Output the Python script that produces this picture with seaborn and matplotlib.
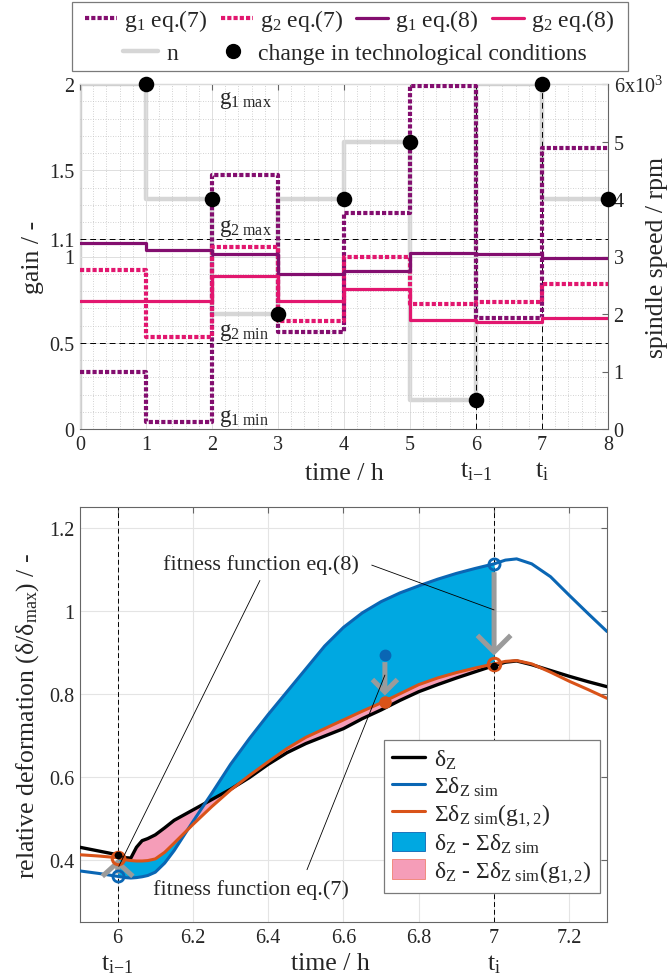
import numpy as np
import pandas as pd
import matplotlib
matplotlib.use("Agg")
import matplotlib.pyplot as plt
import matplotlib.ticker as mticker
from matplotlib.lines import Line2D
from matplotlib.patches import Patch, Rectangle
from matplotlib.transforms import blended_transform_factory
import seaborn as sns

# ---------------- data: top panel (gains / spindle speed) ----------------
hour_edges = [0, 1, 2, 3, 4, 5, 6, 7, 8]
n_start = 0
n_rpm = [6000, 4000, 2000, 4000, 5000, 500, 6000, 4000]
g1_eq7 = [0.33, 0.04, 1.47, 0.56, 1.25, 1.99, 0.645, 1.63]
g2_eq7 = [0.92, 0.535, 1.057, 0.628, 1.00, 0.725, 0.734, 0.841]
g1_eq8 = [1.08, 1.04, 1.013, 0.899, 0.918, 1.02, 1.013, 0.99]
g2_eq8 = [0.74, 0.74, 0.889, 0.74, 0.812, 0.634, 0.622, 0.642]
g1_limits = [0.0, 2.0]     # g1 min, g1 max
g2_limits = [0.5, 1.1]     # g2 min, g2 max
gain_ticks = [0, 0.5, 1, 1.1, 1.5, 2]
gain_ticklabels = ["0", "0.5", "1", "1.1", "1.5", "2"]
rpm_ticks = [0, 1000, 2000, 3000, 4000, 5000, 6000]
rpm_ticklabels = ["0", "1", "2", "3", "4", "5", "6x10$^{3}$"]
marked_times = [6, 7]
marked_labels = ["t$_{i{-}1}$", "t$_{i}$"]

# ---------------- data: bottom panel (relative deformation) ----------------
t_h = [5.90, 5.95, 6.00, 6.02, 6.035, 6.05, 6.065, 6.08, 6.10, 6.125, 6.15,
       6.20, 6.25, 6.30, 6.35, 6.40, 6.45, 6.50, 6.55, 6.60, 6.65, 6.70,
       6.75, 6.80, 6.85, 6.90, 6.95, 7.00, 7.03, 7.06, 7.10, 7.15, 7.20,
       7.25, 7.30]
delta_z = [0.430, 0.421, 0.412, 0.405, 0.404, 0.430, 0.446, 0.451, 0.460,
           0.477, 0.495, 0.520, 0.545, 0.570, 0.598, 0.630, 0.658, 0.680,
           0.698, 0.716, 0.740, 0.761, 0.784, 0.805, 0.822, 0.838, 0.853,
           0.868, 0.876, 0.879, 0.870, 0.856, 0.842, 0.829, 0.817]
sum_sim = [0.373, 0.367, 0.360, 0.357, 0.356, 0.357, 0.359, 0.362, 0.370,
           0.392, 0.422, 0.492, 0.560, 0.630, 0.692, 0.750, 0.805, 0.860,
           0.915, 0.960, 0.995, 1.022, 1.043, 1.060, 1.076, 1.090, 1.102,
           1.113, 1.122, 1.125, 1.113, 1.082, 1.037, 0.993, 0.950]
sum_sim_g = [0.412, 0.409, 0.405, 0.400, 0.398, 0.397, 0.397, 0.398, 0.402,
             0.418, 0.440, 0.485, 0.528, 0.568, 0.603, 0.636, 0.668, 0.695,
             0.716, 0.737, 0.758, 0.778, 0.800, 0.822, 0.838, 0.851, 0.862,
             0.872, 0.878, 0.880, 0.872, 0.852, 0.830, 0.810, 0.789]
fit_window = [6.0, 7.0]
mark_t = [6.0, 6.71, 7.0]
sim_before = [0.360, 0.893, 1.113]
sim_after = [0.405, 0.779, 0.872]
bottom_xticks = [6, 6.2, 6.4, 6.6, 6.8, 7, 7.2]
bottom_yticks = [0.4, 0.6, 0.8, 1.0, 1.2]

# ---------------- styling ----------------
sns.set_style("white")
plt.rcParams["font.family"] = ["Liberation Serif", "DejaVu Serif"]
plt.rcParams["mathtext.fontset"] = "custom"
plt.rcParams["mathtext.rm"] = "Liberation Serif"
plt.rcParams["mathtext.it"] = "Liberation Serif:italic"
plt.rcParams["mathtext.bf"] = "Liberation Serif:bold"
plt.rcParams["mathtext.default"] = "regular"

PURPLE = "#830E6F"
PINK = "#E2176F"
GRAY_N = "#D6D6D6"
BLUE = "#0A66B4"
BLUE_FILL = "#00A8E1"
ORANGE = "#D95319"
PINK_FILL = "#F59DB8"
ARROW = "#9B9B9B"
SPINE = "#666666"
DOT = (0, (1, 0.5))
TICK_FS = 14.5
LABEL_FS = 18.5
LEG_FS = 17

W, H = 670, 979
fig = plt.figure(figsize=(W / 100, H / 100), dpi=100)


def frac(x0, y0, x1, y1):
    return [x0 / W, 1 - y1 / H, (x1 - x0) / W, (y1 - y0) / H]


def steps(vals):
    return pd.DataFrame({"t": hour_edges, "v": list(vals) + [vals[-1]]})


# ======================= top panel =======================
ax2 = fig.add_axes(frac(80, 85, 608, 430))          # spindle speed (behind)
ax = fig.add_axes(frac(80, 85, 608, 430), sharex=ax2)  # gains
ax3 = fig.add_axes(frac(80, 85, 608, 430), sharex=ax2)  # change markers
ax2.set_zorder(1)
ax.set_zorder(2)
ax3.set_zorder(3)
ax.patch.set_visible(False)
ax3.patch.set_visible(False)

# spindle speed
n_df = pd.DataFrame({"t": [hour_edges[0]] + hour_edges,
                     "n": [n_start] + n_rpm + [n_rpm[-1]]})
sns.lineplot(data=n_df, x="t", y="n", ax=ax2, color=GRAY_N, lw=3.2,
             drawstyle="steps-post", estimator=None, sort=False)
ax2.set_xlim(0, 8)
ax2.set_ylim(0, 6000)
ax2.set_xlabel("")
ax2.yaxis.tick_right()
ax2.set_yticks(rpm_ticks)
ax2.set_yticklabels(rpm_ticklabels)
ax2.set_ylabel("spindle speed / rpm", fontsize=LABEL_FS, rotation=90,
               va="center", ha="center")
ax2.yaxis.set_label_coords(1.093, 0.5)
ax2.tick_params(axis="y", direction="in", length=4, labelsize=TICK_FS,
                color=SPINE, pad=4)
ax2.tick_params(axis="x", bottom=False, labelbottom=False)
for s in ax2.spines.values():
    s.set_color(SPINE)
    s.set_linewidth(0.8)

# gains
for vals, col, ls, lw in [(g1_eq7, PURPLE, DOT, 3.0), (g2_eq7, PINK, DOT, 3.0),
                          (g1_eq8, PURPLE, "-", 2.3), (g2_eq8, PINK, "-", 2.3)]:
    sns.lineplot(data=steps(vals), x="t", y="v", ax=ax, color=col, lw=lw,
                 ls=ls, drawstyle="steps-post", estimator=None, sort=False,
                 dash_capstyle="butt")

for lim in g2_limits:
    ax.axhline(lim, color="k", lw=0.7, ls=(0, (6, 4)), zorder=1.5)
for tm in marked_times:
    ax.axvline(tm, color="k", lw=0.7, ls=(0, (6, 4)), zorder=1.5)

ax.text(2.1, g1_limits[1] - 0.03, "g$_{1\\ max}$", fontsize=16.5, va="top")
ax.text(2.1, g2_limits[1] + 0.005, "g$_{2\\ max}$", fontsize=16.5, va="bottom")
ax.text(2.1, g2_limits[0] + 0.005, "g$_{2\\ min}$", fontsize=16.5, va="bottom")
ax.text(2.1, g1_limits[0] + 0.005, "g$_{1\\ min}$", fontsize=16.5, va="bottom")

ax.set_xlim(0, 8)
ax.set_ylim(0, 2)
ax.set_yticks(gain_ticks)
ax.set_yticklabels(gain_ticklabels)
ax.set_xticks(hour_edges)
ax.xaxis.set_minor_locator(mticker.MultipleLocator(0.2))
ax.yaxis.set_minor_locator(mticker.MultipleLocator(0.1))
ax.grid(which="major", color="#DEDEDE", lw=0.7)
ax.grid(which="minor", color="#C4C4C4", lw=0.6, ls=(0, (1, 2)))
ax.set_axisbelow(True)
ax.tick_params(which="both", direction="in", labelsize=TICK_FS, color=SPINE,
               top=True, right=False, pad=4)
ax.tick_params(which="major", length=4)
ax.tick_params(which="minor", length=0)
ax.set_xlabel("time / h", fontsize=LABEL_FS, va="center")
ax.xaxis.set_label_coords(0.5, -0.128)
ax.set_ylabel("gain / -", fontsize=LABEL_FS, labelpad=4)
for s in ax.spines.values():
    s.set_visible(False)

tr = blended_transform_factory(ax.transData, ax.transAxes)
for tm, lab in zip(marked_times, marked_labels):
    ax.annotate(lab, xy=(tm, 0), xycoords=tr, xytext=(0, -30),
                textcoords="offset points", ha="center", va="center",
                fontsize=LABEL_FS)

# change markers
chg_t = hour_edges[1:]
sns.scatterplot(x=chg_t, y=n_rpm, ax=ax3, color="black", s=125,
                edgecolor="black", linewidth=0, zorder=5, clip_on=False)
ax3.set_xlim(0, 8)
ax3.set_ylim(0, 6000)
ax3.set_xlabel("")
ax3.set_ylabel("")
ax3.axis("off")

# top legend (two rows inside a single frame)
hA = [Line2D([], [], color=PURPLE, lw=3.0, ls=DOT, dash_capstyle="butt"),
      Line2D([], [], color=PINK, lw=3.0, ls=DOT, dash_capstyle="butt"),
      Line2D([], [], color=PURPLE, lw=2.3),
      Line2D([], [], color=PINK, lw=2.3)]
lA = ["g$_1$ eq.(7)", "g$_2$ eq.(7)", "g$_1$ eq.(8)", "g$_2$ eq.(8)"]
hB = [Line2D([], [], color=GRAY_N, lw=3.2),
      Line2D([], [], color="black", marker="o", ls="none", ms=10)]
lB = ["n", "change in technological conditions"]
fig.legend(hA, lA, ncol=4, loc="center", bbox_to_anchor=(0.522, 1 - 21 / H),
           frameon=False, fontsize=LEG_FS, handlelength=1.35, handletextpad=0.3,
           columnspacing=0.55, borderaxespad=0, borderpad=0)
fig.legend(hB, lB, ncol=2, loc="center", bbox_to_anchor=(0.53, 1 - 54 / H),
           frameon=False, fontsize=LEG_FS, handlelength=1.45, handletextpad=0.35,
           columnspacing=1.6, borderaxespad=0, borderpad=0)
fig.add_artist(Rectangle((72 / W, 1 - 72 / H), 556 / W, 69 / H,
                         transform=fig.transFigure, fill=False,
                         ec="#7A7A7A", lw=0.9))

# ======================= bottom panel =======================
axb = fig.add_axes(frac(80, 508, 607, 923))
df = pd.DataFrame({"t": t_h, "dz": delta_z, "sim": sum_sim, "simg": sum_sim_g})
tt = df["t"].to_numpy()
win = (tt >= fit_window[0]) & (tt <= fit_window[1])
axb.fill_between(tt, df["dz"], df["sim"], where=win, interpolate=True,
                 color=BLUE_FILL, lw=0, zorder=2)
axb.fill_between(tt, df["dz"], df["simg"], where=win, interpolate=True,
                 color=PINK_FILL, lw=0, zorder=2.1)
sns.lineplot(data=df, x="t", y="dz", ax=axb, color="black", lw=2.4,
             estimator=None, sort=False, zorder=3)
sns.lineplot(data=df, x="t", y="simg", ax=axb, color=ORANGE, lw=2.2,
             estimator=None, sort=False, zorder=3.2)
sns.lineplot(data=df, x="t", y="sim", ax=axb, color=BLUE, lw=2.2,
             estimator=None, sort=False, zorder=3.1)

for tm in fit_window:
    axb.axvline(tm, color="k", lw=0.7, ls=(0, (5, 3)), zorder=1.5)

# arrows (simulation -> optimised simulation)
for tm, y0, y1, k in zip(mark_t, sim_before, sim_after, [0, 1, 2]):
    hw = [0.55, 0.45, 0.6][k]
    hl = [0.5, 0.45, 0.6][k]
    sA = [2, 5, 6][k]
    sB = [1, 5, 6][k]
    axb.annotate("", xy=(tm, y1), xytext=(tm, y0),
                 arrowprops=dict(arrowstyle=f"->,head_length={hl},head_width={hw}",
                                 color=ARROW, lw=3.6, shrinkA=sA, shrinkB=sB,
                                 mutation_scale=20, capstyle="butt",
                                 joinstyle="miter"), zorder=4)

# markers
open_idx = [0, 2]
axb.plot([mark_t[i] for i in open_idx], [sim_before[i] for i in open_idx], "o",
         ms=8, mfc="none", mec=BLUE, mew=2, zorder=6)
axb.plot([mark_t[i] for i in open_idx], [sim_after[i] for i in open_idx], "o",
         ms=9, mfc="none", mec=ORANGE, mew=2.2, zorder=6)
axb.plot([mark_t[i] for i in open_idx],
         np.interp([mark_t[i] for i in open_idx], tt, df["dz"]), "o",
         ms=4.5, color="black", zorder=7)
axb.plot([mark_t[1]], [sim_before[1]], "o", ms=7.5, color=BLUE, zorder=6)
axb.plot([mark_t[1]], [sim_after[1]], "o", ms=8, color=ORANGE, zorder=6)

# annotation texts
axb.text(6.38, 1.113, "fitness function eq.(8)", fontsize=16, ha="center",
         va="center", zorder=8)
axb.text(6.354, 0.329, "fitness function eq.(7)", fontsize=16, ha="center",
         va="center", zorder=8)
lk = dict(arrowstyle="-", color="black", lw=0.6, shrinkA=0, shrinkB=0)
axb.annotate("", xy=(6.003, 0.384), xytext=(6.378, 1.073), arrowprops=lk, zorder=8)
axb.annotate("", xy=(7.0, 1.002), xytext=(6.675, 1.11), arrowprops=lk, zorder=8)
axb.annotate("", xy=(6.71, 0.845), xytext=(6.503, 0.376), arrowprops=lk, zorder=8)

axb.set_xlim(5.9, 7.3)
axb.set_ylim(0.25, 1.25)
axb.set_xticks(bottom_xticks)
axb.set_yticks(bottom_yticks)
axb.xaxis.set_major_formatter(mticker.FormatStrFormatter("%g"))
axb.yaxis.set_major_formatter(mticker.FormatStrFormatter("%g"))
axb.grid(which="major", color="#E4E4E4", lw=0.8)
axb.set_axisbelow(True)
axb.tick_params(direction="in", length=4, labelsize=TICK_FS, color=SPINE,
                top=True, right=True, pad=4)
axb.set_xlabel("time / h", fontsize=LABEL_FS, va="center")
axb.xaxis.set_label_coords(0.475, -0.1)
axb.set_ylabel("relative deformation (δ/δ$_{max}$) / -", fontsize=LABEL_FS,
               labelpad=6)
for s in axb.spines.values():
    s.set_color(SPINE)
    s.set_linewidth(0.8)

trb = blended_transform_factory(axb.transData, axb.transAxes)
for tm, lab in zip(fit_window, marked_labels):
    axb.annotate(lab, xy=(tm, 0), xycoords=trb, xytext=(0, -30),
                 textcoords="offset points", ha="center", va="center",
                 fontsize=LABEL_FS)

hL = [Line2D([], [], color="black", lw=2.4),
      Line2D([], [], color=BLUE, lw=2.2),
      Line2D([], [], color=ORANGE, lw=2.2),
      Patch(facecolor=BLUE_FILL, edgecolor=BLUE, lw=0.6),
      Patch(facecolor=PINK_FILL, edgecolor="#F08070", lw=0.6)]
lL = ["δ$_Z$", "Σδ$_{Z\\ sim}$", "Σδ$_{Z\\ sim}$(g$_{1,2}$)",
      "δ$_Z$ - Σδ$_{Z\\ sim}$", "δ$_Z$ - Σδ$_{Z\\ sim}$(g$_{1,2}$)"]
leg = axb.legend(hL, lL, loc="lower left", bbox_to_anchor=(0.577, 0.07),
                 borderaxespad=0, fontsize=17, handlelength=1.4,
                 handleheight=0.9, handletextpad=0.35, labelspacing=0.15,
                 fancybox=False, framealpha=1, edgecolor="#7A7A7A",
                 borderpad=0.35)
leg.get_frame().set_linewidth(0.9)
leg.set_zorder(9)

fig.savefig("out.png", dpi=100)
